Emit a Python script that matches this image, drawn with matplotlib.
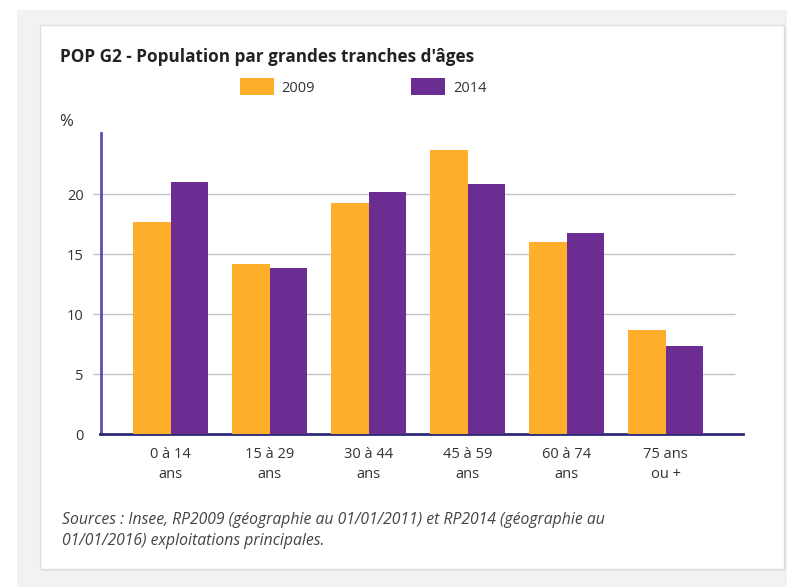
import numpy as np
import matplotlib
matplotlib.use("Agg")
import matplotlib.pyplot as plt
from matplotlib.patches import Rectangle, Patch

# Population par grandes tranches d'âges (%)
categories = ["0 à 14\nans", "15 à 29\nans", "30 à 44\nans",
              "45 à 59\nans", "60 à 74\nans", "75 ans\nou +"]
pop_2009 = [17.7, 14.2, 19.3, 23.7, 16.0, 8.7]
pop_2014 = [21.0, 13.9, 20.2, 20.9, 16.8, 7.4]
series_labels = ["2009", "2014"]
yticks = [0, 5, 10, 15, 20]

ORANGE = "#FDAF2B"
PURPLE = "#6C2D92"
TEXT = "#333333"

plt.rcParams["font.family"] = ["Open Sans", "DejaVu Sans"]

W, H = 787, 587
fig = plt.figure(figsize=(W / 100, H / 100), dpi=100)
fig.patch.set_facecolor("white")


def px_rect(x0, y0, x1, y1, **kw):
    # rectangle given in pixel coords measured from the top-left corner
    return Rectangle((x0 / W, 1 - y1 / H), (x1 - x0) / W, (y1 - y0) / H,
                     transform=fig.transFigure, **kw)


# page background and the white card
fig.add_artist(px_rect(17, 10, W, H, facecolor="#f2f2f2", edgecolor="none", zorder=0))
fig.add_artist(px_rect(41, 26, 786, 571, facecolor="#e4e4e4", edgecolor="none", zorder=0))
fig.add_artist(px_rect(40, 25, 784, 569, facecolor="white", edgecolor="#dedede",
                       linewidth=1, zorder=0))

# plot area
left, right, top, bottom = 100.5, 743, 133, 434.3
ax = fig.add_axes([left / W, 1 - bottom / H, (right - left) / W, (bottom - top) / H])
ax.set_facecolor("none")

x = np.arange(len(categories))
width = 0.379
ax.bar(x - width / 2, pop_2009, width, color=ORANGE, label=series_labels[0], zorder=3)
ax.bar(x + width / 2, pop_2014, width, color=PURPLE, label=series_labels[1], zorder=3)

ax.set_xlim(-0.707, 5.78)
ax.set_ylim(0, (bottom - top) / 12)

# horizontal grid, slightly overhanging the y axis on the left
ax.hlines(yticks[1:], -0.785, 5.70, colors="#c4c4c4", linewidth=1, zorder=1, clip_on=False)

for s in ["top", "right"]:
    ax.spines[s].set_visible(False)
ax.spines["left"].set_color("#5a52b0")
ax.spines["left"].set_linewidth(2)
ax.spines["bottom"].set_color("#2e2a78")
ax.spines["bottom"].set_linewidth(2)

ax.set_yticks(yticks)
ax.set_yticklabels([str(v) for v in yticks])
ax.tick_params(axis="y", length=0, pad=12, labelsize=10.5, labelcolor=TEXT)
ax.set_xticks(x)
ax.set_xticklabels(categories, linespacing=1.45)
ax.tick_params(axis="x", length=0, pad=9, labelsize=10.5, labelcolor=TEXT)

fig.text(66 / W, 1 - 122 / H, "%", fontsize=12, color=TEXT, ha="center", va="center")

fig.text(60 / W, 1 - 57 / H, "POP G2 - Population par grandes tranches d'âges",
         fontsize=12.3, fontweight="bold", color="#222222", ha="left", va="center")

handles = [Patch(facecolor=ORANGE), Patch(facecolor=PURPLE)]
fig.legend(handles, series_labels, loc="center left",
           bbox_to_anchor=(240 / W, 1 - 87 / H), ncol=2, frameon=False,
           fontsize=10.5, labelcolor=TEXT, handlelength=2.3, handleheight=1.4,
           handletextpad=0.55, columnspacing=6.6, borderpad=0, borderaxespad=0)

source_lines = ["Sources : Insee, RP2009 (géographie au 01/01/2011) et RP2014 (géographie au",
                "01/01/2016) exploitations principales."]
for yy, line in zip([520, 541], source_lines):
    fig.text(62 / W, 1 - yy / H, line, fontsize=11.3, fontstyle="italic",
             color="#444444", ha="left", va="center")

fig.savefig("out.png", dpi=100)
